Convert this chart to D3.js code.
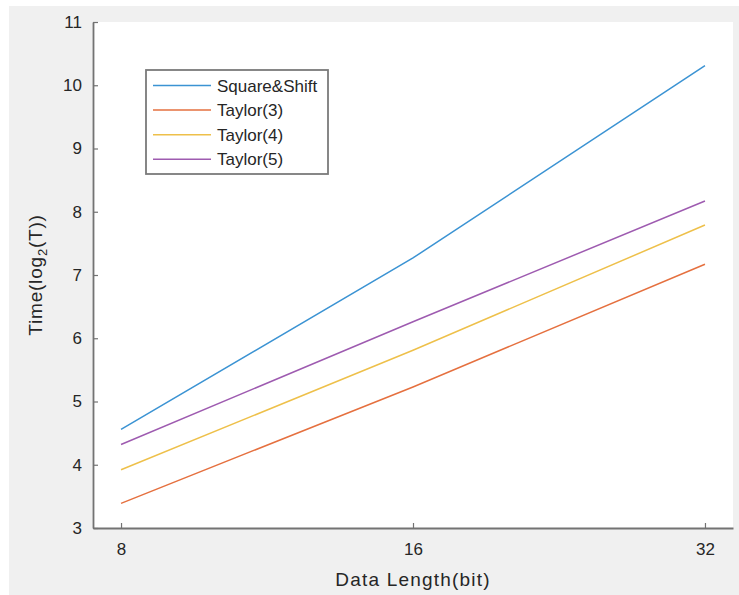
<!DOCTYPE html>
<html><head><meta charset="utf-8">
<script src="https://cdn.jsdelivr.net/npm/d3@7"></script>
<style>body{margin:0;background:#fff;}svg{display:block;font-family:"Liberation Sans",Arial,sans-serif;}</style>
</head><body>
<svg id="c" width="739" height="595"></svg>
<script>
const dataLength = [8, 16, 32];
const seriesNames = ["Square&Shift", "Taylor(3)", "Taylor(4)", "Taylor(5)"];
const squareShift = [4.56, 7.27, 10.31];
const taylor3 = [3.39, 5.23, 7.17];
const taylor4 = [3.92, 5.81, 7.79];
const taylor5 = [4.32, 6.26, 8.17];
const yTicks = [3, 4, 5, 6, 7, 8, 9, 10, 11];
const xTicks = [8, 16, 32];
const colors = ["#3b93d3", "#e5703f", "#eec04a", "#9e5bb0"];
const allSeries = [squareShift, taylor3, taylor4, taylor5];

const svg = d3.select("#c");
svg.append("rect").attr("x", 9).attr("y", 6).attr("width", 730).attr("height", 589).attr("fill", "#f0f0f0");

const L = 93, R = 733, T = 22, B = 528;
svg.append("rect").attr("x", L).attr("y", T).attr("width", R - L).attr("height", B - T).attr("fill", "#fff");

const x = d3.scaleLog().base(2).domain([Math.pow(2, 2.904), Math.pow(2, 5.096)]).range([L, R]);
const y = d3.scaleLinear().domain([3, 11]).range([B, T]);

const axisColor = "#737373", textColor = "#262626";

const xAxis = svg.append("g").attr("transform", `translate(0,${B})`)
  .call(d3.axisBottom(x).tickValues(xTicks).tickFormat(d3.format("d")).tickSizeInner(-5).tickSizeOuter(0).tickPadding(15));
const yAxis = svg.append("g").attr("transform", `translate(${L},0)`)
  .call(d3.axisLeft(y).tickValues(yTicks).tickFormat(d3.format("d")).tickSizeInner(-5).tickSizeOuter(0).tickPadding(11));
[xAxis, yAxis].forEach(a => {
  a.select(".domain").attr("stroke", axisColor).attr("stroke-width", 1.8);
  a.selectAll(".tick line").attr("stroke", axisColor).attr("stroke-width", 1.2);
  a.selectAll(".tick text").attr("fill", textColor)
    .style("font-size", "17px").style("font-family", "'Liberation Sans', Arial, sans-serif");
});

const line = d3.line().x((d, i) => x(dataLength[i])).y(d => y(d));
allSeries.forEach((s, k) => {
  svg.append("path").datum(s).attr("d", line).attr("fill", "none")
    .attr("stroke", colors[k]).attr("stroke-width", 1.5);
});

// axis labels
svg.append("text").attr("x", (L + R) / 2).attr("y", 586).attr("text-anchor", "middle")
  .style("font-size", "19px").style("letter-spacing", "1.2px").attr("fill", textColor).text("Data Length(bit)");
const yl = svg.append("text").attr("transform", `translate(42,${(T + B) / 2}) rotate(-90)`)
  .attr("text-anchor", "middle").style("font-size", "19px").style("letter-spacing", "0.8px").attr("fill", textColor);
yl.append("tspan").text("Time(log");
yl.append("tspan").style("font-size", "13px").attr("dy", 5).text("2");
yl.append("tspan").attr("dy", -5).text("(T))");

// legend
const lg = svg.append("g");
lg.append("rect").attr("x", 146).attr("y", 70).attr("width", 182).attr("height", 104)
  .attr("fill", "#fff").attr("stroke", "#7a7a7a").attr("stroke-width", 1.8);
seriesNames.forEach((n, k) => {
  const yy = 85.5 + k * 24.6;
  lg.append("line").attr("x1", 153).attr("x2", 211).attr("y1", yy).attr("y2", yy)
    .attr("stroke", colors[k]).attr("stroke-width", 1.5);
  lg.append("text").attr("x", 217).attr("y", yy + 6).style("font-size", "17px").attr("fill", textColor).text(n);
});
</script>
</body></html>
